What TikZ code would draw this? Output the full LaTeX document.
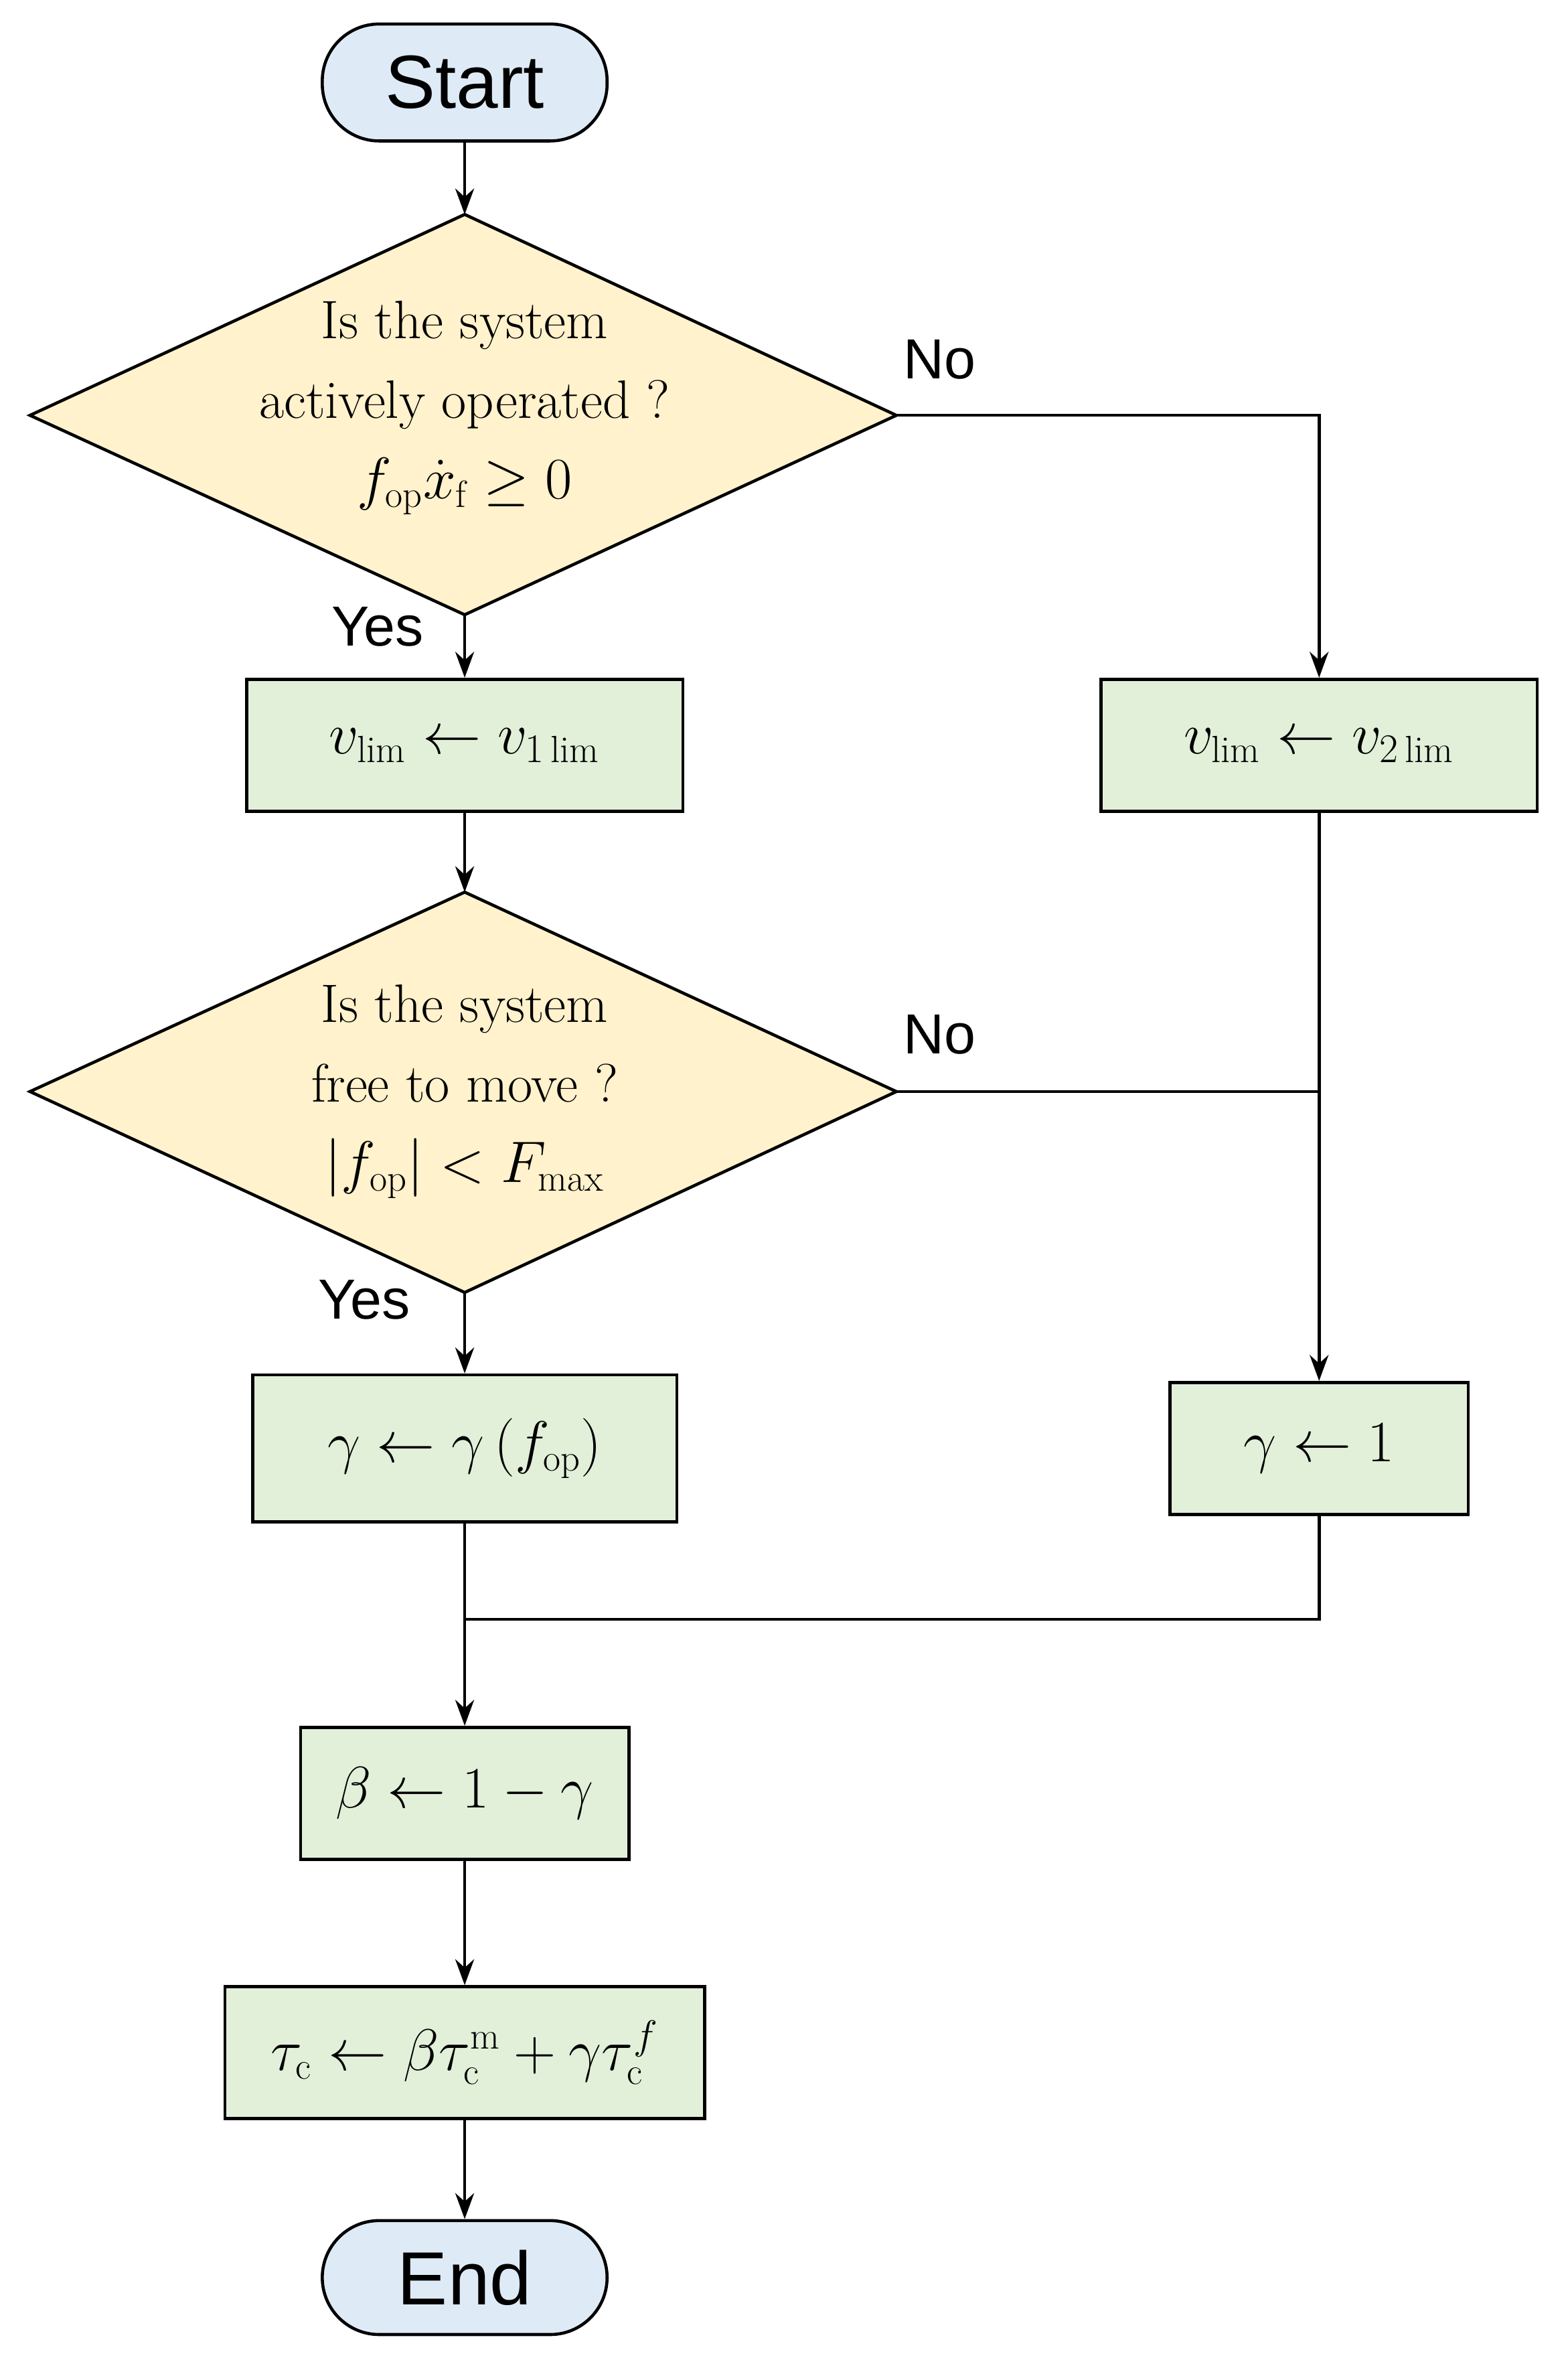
\documentclass[tikz,border=0pt]{standalone}
\usepackage{fontspec}
\newfontfamily\sans{Liberation Sans}
\usetikzlibrary{arrows.meta}
\definecolor{cblue}{HTML}{DEEBF7}
\definecolor{cyel}{HTML}{FFF2CC}
\definecolor{cgrn}{HTML}{E2F0D9}
\begin{document}
\begin{tikzpicture}[x=0.02239cm,y=-0.02239cm,
  ln/.style={line width=1.3pt},
  arr/.style={ln,-{Stealth[length=11pt,width=8pt]}},
  term/.style={draw,ln,fill=cblue,rounded corners=0.85cm,font=\sans\fontsize{32}{36}\selectfont,inner sep=0pt},
  box/.style={draw,ln,fill=cgrn,inner sep=0pt,font=\fontsize{23}{28}\selectfont},
  dtext/.style={align=center,font=\fontsize{23}{34}\selectfont},
  lab/.style={font=\sans\fontsize{24}{28}\selectfont}]
\useasboundingbox (0,0) rectangle (1046,1578);
\node[term,minimum width=190*0.02239cm,minimum height=78*0.02239cm] (start) at (310,55) {Start};
\draw[ln,fill=cyel] (20,277) coordinate(d1w) -- (310,143) coordinate(d1n) -- (598,277) coordinate(d1e) -- (310,410) coordinate(d1s) -- cycle;
\node[dtext] (t1) at (310,272) {Is the system\\actively operated ?\\$f_{\mathrm{op}}\dot x_{\mathrm f}\geq 0$};
\node[box,minimum width=291*0.02239cm,minimum height=88*0.02239cm] (v1) at (310,497) {$v_{\mathrm{lim}}\leftarrow v_{1\,\mathrm{lim}}$};
\node[box,minimum width=291*0.02239cm,minimum height=88*0.02239cm] (v2) at (880,497) {$v_{\mathrm{lim}}\leftarrow v_{2\,\mathrm{lim}}$};
\draw[ln,fill=cyel] (20,728) coordinate(d2w) -- (310,595) coordinate(d2n) -- (598,728) coordinate(d2e) -- (310,862) coordinate(d2s) -- cycle;
\node[dtext] (t2) at (310,728) {Is the system\\free to move ?\\$\left|f_{\mathrm{op}}\right|<F_{\max}$};
\node[box,minimum width=283*0.02239cm,minimum height=98*0.02239cm] (g) at (310,966) {$\gamma\leftarrow\gamma\left(f_{\mathrm{op}}\right)$};
\node[box,minimum width=199*0.02239cm,minimum height=88*0.02239cm] (g1) at (880,966) {$\gamma\leftarrow 1$};
\node[box,minimum width=219*0.02239cm,minimum height=88*0.02239cm] (b) at (310,1196) {$\beta\leftarrow 1-\gamma$};
\node[box,minimum width=320*0.02239cm,minimum height=88*0.02239cm] (tau) at (310,1369) {$\tau_{\mathrm c}\leftarrow\beta\tau_{\mathrm c}^{\mathrm m}+\gamma\tau_{\mathrm c}^{f}$};
\node[term,minimum width=190*0.02239cm,minimum height=76*0.02239cm] (end) at (310,1519) {End};
\coordinate (c1) at (880,277);
\coordinate (c2) at (880,728);
\coordinate (m1) at (880,1080);
\coordinate (m0) at (310,1080);
\draw[arr] (start) -- (d1n);
\draw[arr] (d1s) -- (v1);
\draw[arr] (d1e) -- (c1) -- (v2);
\draw[arr] (v1) -- (d2n);
\draw[ln] (d2e) -- (c2);
\draw[arr] (v2) -- (g1);
\draw[arr] (d2s) -- (g);
\draw[arr] (g) -- (b);
\draw[ln] (g1) -- (m1) -- (m0);
\draw[arr] (b) -- (tau);
\draw[arr] (tau) -- (end);
\node[lab] (no1) at (627,240) {No};
\node[lab] (no2) at (627,690) {No};
\node[lab] (y1) at (252,418) {Yes};
\node[lab] (y2) at (243,867) {Yes};
\end{tikzpicture}
\end{document}
